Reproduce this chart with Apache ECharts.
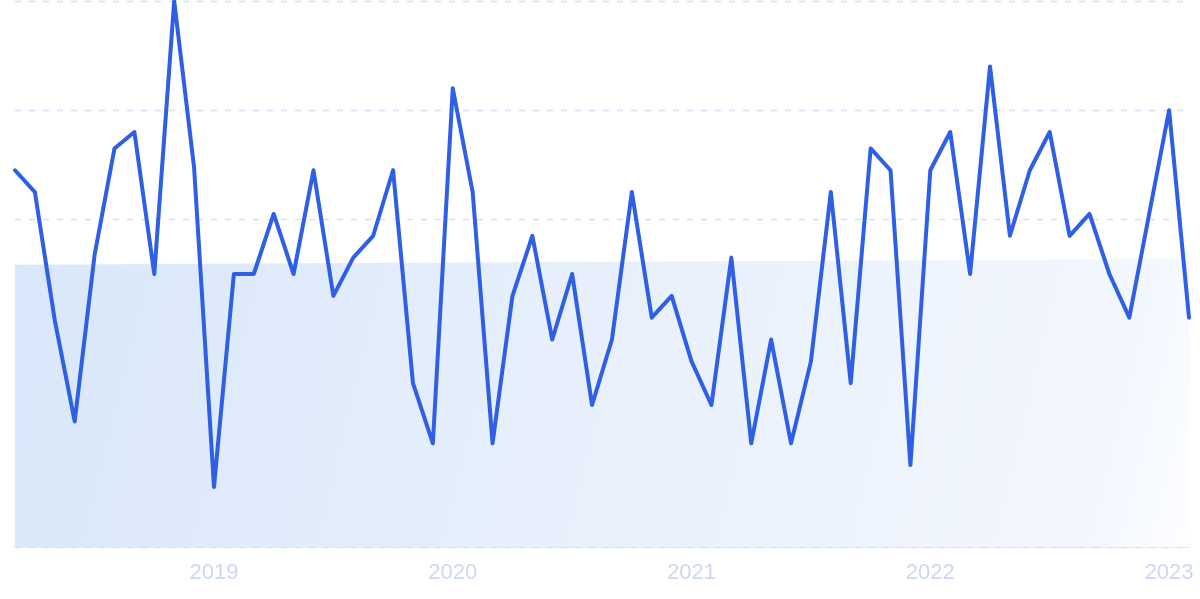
<!DOCTYPE html>
<html>
<head>
<meta charset="utf-8">
<script src="https://cdn.jsdelivr.net/npm/echarts@6/dist/echarts.min.js"></script>
<style>
html,body{margin:0;padding:0;background:#fff;}
#chart{width:1200px;height:599px;}
</style>
</head>
<body>
<div id="chart"></div>
<script>
const categories = [
  '2018-03','2018-04','2018-05','2018-06','2018-07','2018-08','2018-09','2018-10','2018-11','2018-12',
  '2019-01','2019-02','2019-03','2019-04','2019-05','2019-06','2019-07','2019-08','2019-09','2019-10','2019-11','2019-12',
  '2020-01','2020-02','2020-03','2020-04','2020-05','2020-06','2020-07','2020-08','2020-09','2020-10','2020-11','2020-12',
  '2021-01','2021-02','2021-03','2021-04','2021-05','2021-06','2021-07','2021-08','2021-09','2021-10','2021-11','2021-12',
  '2022-01','2022-02','2022-03','2022-04','2022-05','2022-06','2022-07','2022-08','2022-09','2022-10','2022-11','2022-12',
  '2023-01','2023-02'
];
const values = [
  69, 65, 41.5, 23, 53.5, 73, 76, 50, 100, 69.5,
  11, 50, 50, 61, 50, 69, 46, 53, 57, 69, 30, 19,
  84, 65, 19, 46, 57, 38, 50, 26, 38, 65, 42, 46,
  34, 26, 53, 19, 38, 19, 34, 65, 30, 73, 69, 15,
  69, 76, 50, 88, 57, 69, 76, 57, 61, 50, 42, 61,
  80, 42
];
const trendStart = 51.7;
const trendEnd = 52.8;
const yearTicks = ['2019','2020','2021','2022','2023'];

const chart = echarts.init(document.getElementById('chart'), null, {renderer:'canvas'});
chart.setOption({
  animation: false,
  grid: {left: 15, right: 11, top: 1, bottom: 52, containLabel: false},
  xAxis: {
    type: 'category',
    data: categories,
    boundaryGap: false,
    axisLine: {show: true, lineStyle: {color: '#d3e3fa', width: 1.5}},
    axisTick: {show: false},
    splitLine: {show: false},
    axisLabel: {
      interval: function (idx, val) { return val.endsWith('-01'); },
      formatter: function (val) {
        const y = val.slice(0, 4);
        return yearTicks.indexOf(y) >= 0 ? y : '';
      },
      color: '#cbd7f5',
      fontSize: 22,
      fontFamily: 'Liberation Sans, Arial, sans-serif',
      margin: 15
    }
  },
  yAxis: {
    type: 'value',
    min: 0,
    max: 100,
    interval: 20,
    axisLine: {show: false},
    axisTick: {show: false},
    axisLabel: {show: false},
    splitLine: {show: true, lineStyle: {color: '#d2e2fb', type: [6, 8], width: 1.3}}
  },
  series: [
    {
      type: 'line',
      data: [[categories[0], trendStart], [categories[categories.length - 1], trendEnd]],
      symbol: 'none',
      lineStyle: {width: 0, opacity: 0},
      areaStyle: {
        opacity: 1,
        color: new echarts.graphic.LinearGradient(0, 0, 1, 1, [
          {offset: 0, color: '#d9e7fa'},
          {offset: 0.5, color: '#e8f0fc'},
          {offset: 0.92, color: '#f3f7fe'},
          {offset: 1, color: '#fdfeff'}
        ])
      },
      z: 1,
      silent: true
    },
    {
      type: 'line',
      data: values,
      symbol: 'none',
      lineStyle: {color: '#2e5fe4', width: 4, join: 'round', cap: 'round'},
      z: 3
    }
  ]
});
</script>
</body>
</html>
